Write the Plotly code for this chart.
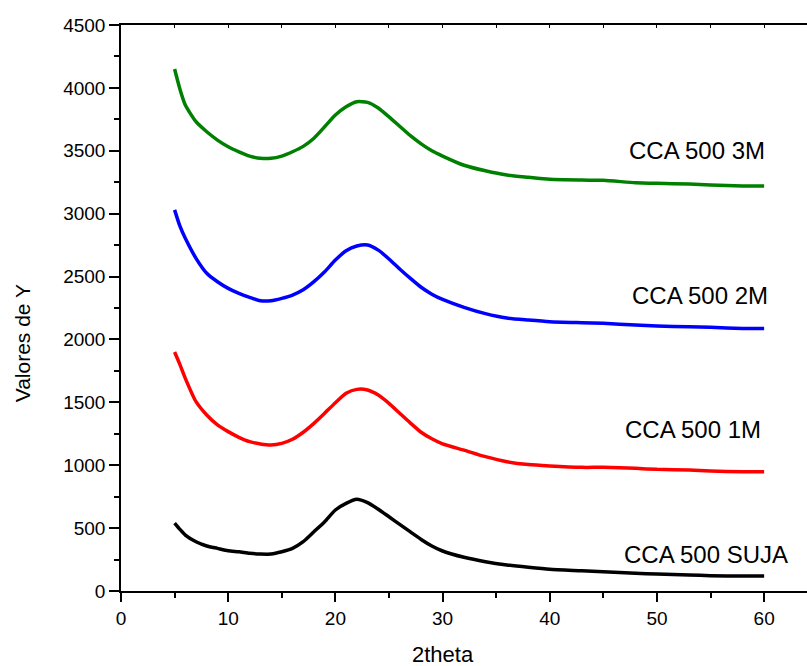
import plotly.graph_objects as go

# 2theta sample positions (degrees)
theta = [5, 5.5, 6, 7, 8, 9, 10, 11, 12, 13, 14, 15, 16, 17, 18, 19, 20, 21, 22, 23, 24,
         25, 26, 27, 28, 29, 30, 32, 34, 36, 38, 40, 43, 45, 48, 50, 53, 55, 58, 60]

# intensities
cca_3m = [4150, 3990, 3864, 3731, 3651, 3585, 3532, 3492, 3458, 3440, 3440, 3458, 3492, 3535,
          3600, 3691, 3784, 3850, 3890, 3885, 3840, 3770, 3695, 3620, 3555, 3500, 3458, 3385,
          3341, 3307, 3289, 3273, 3267, 3265, 3246, 3241, 3236, 3228, 3220, 3220]
cca_2m = [3030, 2900, 2804, 2645, 2526, 2459, 2406, 2367, 2335, 2308, 2308, 2327, 2353, 2395,
          2459, 2538, 2631, 2705, 2743, 2751, 2710, 2640, 2560, 2485, 2415, 2360, 2318, 2255,
          2205, 2170, 2154, 2141, 2133, 2128, 2115, 2107, 2101, 2096, 2088, 2088]
cca_1m = [1900, 1800, 1691, 1505, 1399, 1320, 1267, 1222, 1187, 1169, 1161, 1174, 1206, 1262,
          1333, 1413, 1497, 1572, 1603, 1598, 1558, 1492, 1413, 1335, 1262, 1210, 1170, 1120,
          1068, 1028, 1005, 994, 983, 983, 975, 967, 962, 954, 948, 948]
cca_suja = [540, 490, 445, 392, 358, 339, 320, 312, 300, 294, 294, 312, 339, 392,
            471, 551, 644, 697, 729, 702, 650, 590, 530, 470, 410, 358, 318, 268,
            233, 207, 188, 172, 161, 153, 141, 135, 127, 122, 119, 119]

series_names = ["CCA 500 SUJA", "CCA 500 1M", "CCA 500 2M", "CCA 500 3M"]
series_values = [cca_suja, cca_1m, cca_2m, cca_3m]
series_colors = ["#000000", "#ff0000", "#0000ff", "#008000"]

# label anchor positions (x, y in data units)
label_x = [54.6, 53.4, 54.0, 53.7]
label_y = [294, 1285, 2353, 3506]

fig = go.Figure()
for name, vals, col in zip(series_names, series_values, series_colors):
    fig.add_trace(go.Scatter(x=theta, y=vals, mode="lines", name=name,
                             line=dict(color=col, width=3.5, shape="spline", smoothing=0.6),
                             showlegend=False))

# invisible trace to activate the top mirror axis
fig.add_trace(go.Scatter(x=[theta[0], theta[-1]], y=[None, None], xaxis="x2",
                         mode="lines", showlegend=False, hoverinfo="skip"))

for name, lx, ly in zip(series_names, label_x, label_y):
    fig.add_annotation(x=lx, y=ly, text=name, showarrow=False,
                       xanchor="center", yanchor="middle",
                       font=dict(size=24, color="black"))

# axis titles as annotations (positioned as in the reference)
fig.add_annotation(x=30, y=-0.113, xref="x", yref="paper", text="2theta", showarrow=False,
                   xanchor="center", yanchor="middle", font=dict(size=22, color="black"))
fig.add_annotation(x=-0.144, y=0.438, xref="paper", yref="paper", text="Valores de Y",
                   showarrow=False, textangle=-90, xanchor="center", yanchor="middle",
                   font=dict(size=21, color="black"))

font_family = "Liberation Sans, Arial, sans-serif"
fig.update_layout(
    width=807, height=666,
    margin=dict(l=121, r=0, t=25, b=75),
    paper_bgcolor="white", plot_bgcolor="white",
    font=dict(family=font_family, color="black", size=19),
    xaxis=dict(range=[0, 64], dtick=10, tick0=0, showgrid=False, zeroline=False,
               showline=True, linecolor="black", linewidth=1.5,
               ticks="outside", ticklen=9, tickwidth=1.5, tickcolor="black",
               minor=dict(dtick=5, ticks="outside", ticklen=5, tickwidth=1.5, tickcolor="black"),
               tickfont=dict(size=19)),
    xaxis2=dict(range=[0, 64], overlaying="x", side="top", anchor="y",
                showgrid=False, zeroline=False, showline=True, linecolor="black", linewidth=1.5,
                dtick=5, tick0=0, ticks="inside", ticklen=3, tickwidth=1, tickcolor="black",
                showticklabels=False),
    yaxis=dict(range=[0, 4500], dtick=500, tick0=0, showgrid=False, zeroline=False,
               showline=True, linecolor="black", linewidth=1.5,
               ticks="outside", ticklen=10, tickwidth=1.5, tickcolor="black",
               minor=dict(dtick=250, ticks="outside", ticklen=5, tickwidth=1.5, tickcolor="black"),
               tickfont=dict(size=19)),
)

fig.write_html("out.html")
